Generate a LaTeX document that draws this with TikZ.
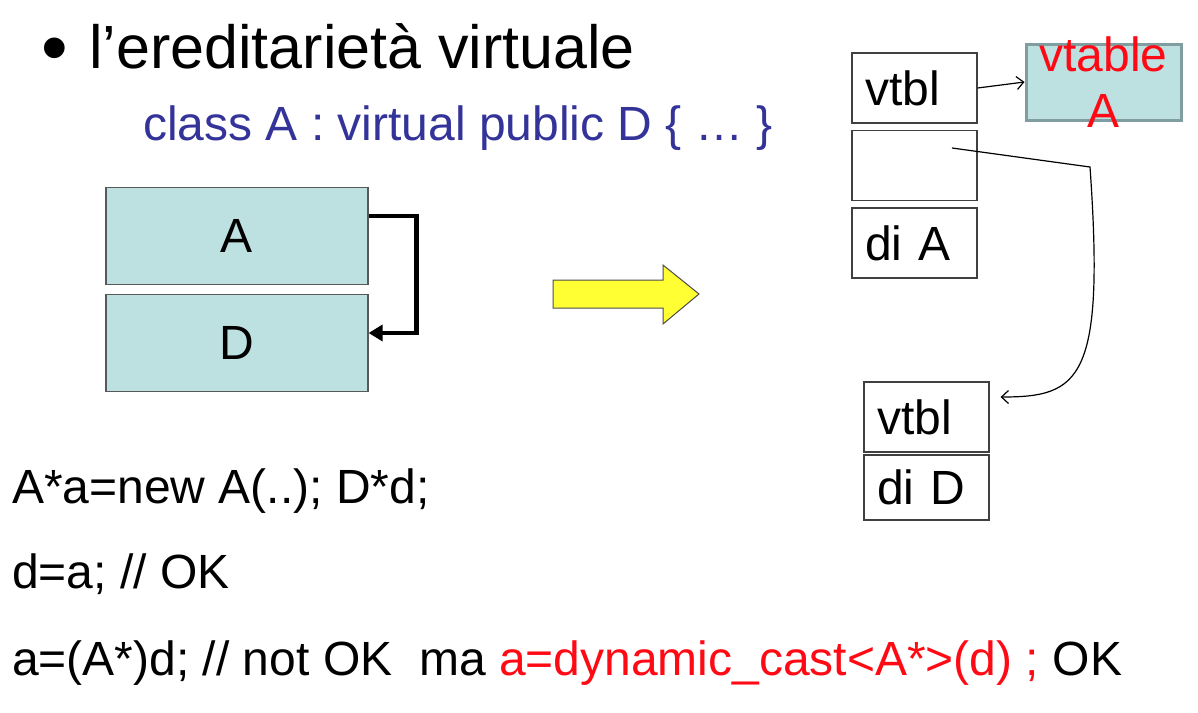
\documentclass[tikz,border=0pt]{standalone}
\usepackage{fontspec}
\setmainfont{Liberation Sans}
\usepackage{tikz}
\usetikzlibrary{calc}
\usetikzlibrary{arrows.meta}

\definecolor{classFill}{RGB}{189,224,225}
\definecolor{codeBlue}{RGB}{51,51,153}
\definecolor{castRed}{RGB}{255,10,20}
\definecolor{arrowYellow}{RGB}{255,255,51}
\definecolor{vtableEdge}{RGB}{128,158,160}

\begin{document}
\begin{tikzpicture}[x=1pt, y=-1pt,
	bigText/.style={font=\fontsize{48}{56}\selectfont, inner sep=0pt},
	classBox/.style={draw=black!65, line width=1.2pt, fill=classFill, minimum width=262pt, minimum height=97pt, font=\fontsize{48}{56}\selectfont},
	slotBox/.style={draw=black!75, line width=1.2pt, minimum height=70pt, text width=99pt, inner xsep=13pt, align=left, font=\fontsize{48}{56}\selectfont},
	ptrArrow/.style={-{Straight Barb[length=7pt, width=13pt]}, line width=1.2pt}]

	% page frame
	\useasboundingbox (0,0) rectangle (1198,712);

	% title
	\node [bigText, font=\fontsize{76}{86}\selectfont, anchor=base west] (bullet) at (41,73) {•};
	\node [bigText, font=\fontsize{61}{70}\selectfont, anchor=base west] (title) at (89,68) {l’ereditarietà virtuale};
	\node [bigText, text=codeBlue, anchor=base west] (decl) at (143,140) {class A : virtual public D \{ … \}};

	% class boxes
	\node [classBox] (classA) at (237,236) {A};
	\node [classBox] (classD) at (237,343) {D};

	% inheritance arrow
	\draw [line width=4.5pt, -{Triangle[length=14pt, width=16pt]}] ([yshift=20pt] classA.east) -- ++(48,0) |- ([yshift=10pt] classD.east);

	% yellow arrow
	\def \arrowLeft {553};
	\def \arrowNeck {663};
	\def \arrowTip {699};
	\filldraw [fill=arrowYellow, draw=black!70, line width=1pt] (\arrowLeft,280) -- (\arrowNeck,280) -- (\arrowNeck,265) -- (\arrowTip,294) -- (\arrowNeck,324) -- (\arrowNeck,308) -- (\arrowLeft,308) -- cycle;

	% object A
	\node [slotBox] (vtblA) at (914.5,88) {vtbl};
	\node [slotBox] (slotD) at (914.5,165.5) {};
	\node [slotBox] (fieldsA) at (914.5,243) {di A};

	% vtable of A
	\node [draw=vtableEdge, line width=3pt, fill=classFill, minimum width=155pt, minimum height=76pt] (vtableA) at (1103.5,82) {};
	\node [bigText, text=castRed, align=center, font=\fontsize{48}{56}\selectfont] (vtableText) at (vtableA.center) {vtable\\A};
	\draw [ptrArrow] (vtblA.east) -- (vtableA.west);

	% sub-object D
	\node [slotBox] (vtblD) at (926.5,417) {vtbl};
	\node [slotBox, minimum height=65pt] (fieldsD) at (926.5,487.5) {di D};

	% pointer to the D part
	\coordinate (ptrStart) at ([xshift=37.5pt, yshift=17.5pt] slotD.center);
	\coordinate (ptrEnd) at ([xshift=11pt, yshift=20pt] vtblD.east);
	\draw [ptrArrow] (ptrStart) -- (1090,167) .. controls (1105,380) and (1080,397) .. (ptrEnd);

	% code lines
	\node [bigText, anchor=base west] (line1) at (12,503) {A*a=new A(..); D*d;};
	\node [bigText, anchor=base west] (line2) at (12,588) {d=a; // OK};
	\node [bigText, anchor=base west] (line3) at (12,675) {a=(A*)d; // not OK\ \ ma \textcolor{castRed}{a=dynamic\_cast<A*>(d) ;} OK};

\end{tikzpicture}
\end{document}
